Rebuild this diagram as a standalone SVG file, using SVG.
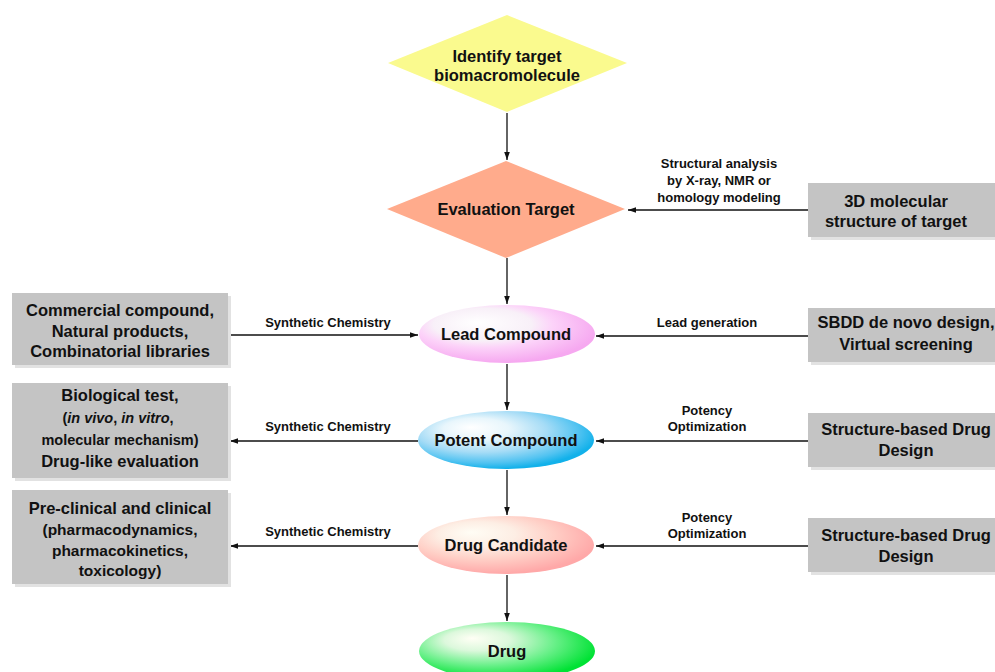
<svg xmlns="http://www.w3.org/2000/svg" width="995" height="672" viewBox="0 0 995 672">
<style>
text{font-family:"Liberation Sans",Arial,sans-serif;font-weight:bold;fill:#111;text-anchor:middle}
.box{fill:#c4c4c4}
.shadow{fill:#e2e2e2}
.bt{font-size:16.5px}
.bs{font-size:14.5px}
.bs2{font-size:15.5px}
.lbl{font-size:13px}
.nt{font-size:16.5px}
.conn{stroke:#111;stroke-width:1.3;fill:none;marker-end:url(#ah)}
</style>
<defs>
<marker id="ah" viewBox="0 0 10 10" refX="10" refY="5" markerWidth="8" markerHeight="8" markerUnits="userSpaceOnUse" orient="auto">
<path d="M0,1.5 L10,5 L0,8.5 Z" fill="#111"/>
</marker>
<radialGradient id="gLead" cx="0.4" cy="0.38" r="0.62" fx="0.33" fy="0.3">
<stop offset="0" stop-color="#ffffff"/><stop offset="0.45" stop-color="#f8f0f8"/><stop offset="0.62" stop-color="#fcd3f9"/><stop offset="1" stop-color="#f6a8f0"/>
</radialGradient>
<radialGradient id="gPot" cx="0.4" cy="0.38" r="0.62" fx="0.3" fy="0.28">
<stop offset="0" stop-color="#ffffff"/><stop offset="0.3" stop-color="#e8f6fc"/><stop offset="0.6" stop-color="#a6dcf6"/><stop offset="0.85" stop-color="#52c3f1"/><stop offset="1" stop-color="#12b1ea"/>
</radialGradient>
<radialGradient id="gCand" cx="0.4" cy="0.38" r="0.62" fx="0.3" fy="0.28">
<stop offset="0" stop-color="#fffdf5"/><stop offset="0.35" stop-color="#fdeee4"/><stop offset="0.65" stop-color="#ffcfc6"/><stop offset="1" stop-color="#ffa8a8"/>
</radialGradient>
<radialGradient id="gDrug" cx="0.4" cy="0.38" r="0.62" fx="0.3" fy="0.28">
<stop offset="0" stop-color="#fffff5"/><stop offset="0.3" stop-color="#dcf8dc"/><stop offset="0.65" stop-color="#6af08a"/><stop offset="1" stop-color="#00e234"/>
</radialGradient>
</defs>

<g id="connectors">
<line class="conn" x1="507" y1="113" x2="507" y2="160"/>
<line class="conn" x1="507" y1="258" x2="507" y2="304"/>
<line class="conn" x1="507" y1="364" x2="507" y2="410"/>
<line class="conn" x1="507" y1="470" x2="507" y2="515"/>
<line class="conn" x1="507" y1="575" x2="507" y2="621"/>
<line class="conn" x1="808" y1="210" x2="628" y2="210"/>
<line class="conn" x1="228" y1="335" x2="418" y2="335"/>
<line class="conn" x1="808" y1="336" x2="596" y2="336"/>
<line class="conn" x1="418" y1="441" x2="230" y2="441"/>
<line class="conn" x1="808" y1="441" x2="596" y2="441"/>
<line class="conn" x1="418" y1="546" x2="230" y2="546"/>
<line class="conn" x1="808" y1="546" x2="596" y2="546"/>
<text class="lbl" x="719" y="168">Structural analysis</text>
<text class="lbl" x="719" y="185">by X-ray, NMR or</text>
<text class="lbl" x="719" y="202">homology modeling</text>
<text class="lbl" x="328" y="327">Synthetic Chemistry</text>
<text class="lbl" x="707" y="327">Lead generation</text>
<text class="lbl" x="328" y="431">Synthetic Chemistry</text>
<text class="lbl" x="707" y="415">Potency</text>
<text class="lbl" x="707" y="431">Optimization</text>
<text class="lbl" x="328" y="536">Synthetic Chemistry</text>
<text class="lbl" x="707" y="522">Potency</text>
<text class="lbl" x="707" y="538">Optimization</text>
</g>

<g id="identify">
<polygon points="507,15 627,63 507,112 388,63" fill="#fafa8e"/>
<text class="nt" x="507" y="62">Identify target</text>
<text class="nt" x="507" y="81">biomacromolecule</text>
</g>

<g id="evaluation">
<polygon points="506,161 625,209 506,258 387,209" fill="#ffab8c"/>
<text class="nt" x="506" y="215">Evaluation Target</text>
</g>

<g id="structure3d">
<rect class="shadow" x="811" y="186" width="200" height="54"/>
<rect class="box" x="808" y="183" width="200" height="54"/>
<text class="bt" x="896" y="207">3D molecular</text>
<text class="bt" x="896" y="227">structure of target</text>
</g>

<g id="commercial">
<rect class="shadow" x="15" y="296" width="216" height="72"/>
<rect class="box" x="12" y="293" width="216" height="72"/>
<text class="bt" x="120" y="316">Commercial compound,</text>
<text class="bt" x="120" y="337">Natural products,</text>
<text class="bt" x="120" y="357">Combinatorial libraries</text>
</g>

<g id="lead">
<ellipse cx="507" cy="334" rx="88" ry="29" fill="url(#gLead)"/>
<text class="nt" x="506" y="340">Lead Compound</text>
</g>

<g id="sbdd">
<rect class="shadow" x="811" y="311" width="200" height="54"/>
<rect class="box" x="808" y="308" width="200" height="54"/>
<text class="bt" x="906" y="328">SBDD de novo design,</text>
<text class="bt" x="906" y="350">Virtual screening</text>
</g>

<g id="biological">
<rect class="shadow" x="15" y="386" width="216" height="95"/>
<rect class="box" x="12" y="383" width="216" height="95"/>
<text class="bt" x="120" y="401">Biological test,</text>
<text class="bs" x="118" y="423">(<tspan font-style="italic">in vivo</tspan>, <tspan font-style="italic">in vitro</tspan>,</text>
<text class="bs" x="120" y="445">molecular mechanism)</text>
<text class="bt" x="120" y="467">Drug-like evaluation</text>
</g>

<g id="potent">
<ellipse cx="506" cy="440" rx="88" ry="29" fill="url(#gPot)"/>
<text class="nt" x="506" y="446">Potent Compound</text>
</g>

<g id="sbdd2">
<rect class="shadow" x="811" y="416" width="200" height="54"/>
<rect class="box" x="808" y="413" width="200" height="54"/>
<text class="bt" x="906" y="435">Structure-based Drug</text>
<text class="bt" x="906" y="456">Design</text>
</g>

<g id="preclinical">
<rect class="shadow" x="15" y="493" width="216" height="94"/>
<rect class="box" x="12" y="490" width="216" height="94"/>
<text class="bt" x="120" y="514">Pre-clinical and clinical</text>
<text class="bs2" x="120" y="535">(pharmacodynamics,</text>
<text class="bs2" x="120" y="556">pharmacokinetics,</text>
<text class="bs2" x="120" y="576">toxicology)</text>
</g>

<g id="candidate">
<ellipse cx="506" cy="545" rx="88" ry="29" fill="url(#gCand)"/>
<text class="nt" x="506" y="551">Drug Candidate</text>
</g>

<g id="sbdd3">
<rect class="shadow" x="811" y="521" width="200" height="54"/>
<rect class="box" x="808" y="518" width="200" height="54"/>
<text class="bt" x="906" y="541">Structure-based Drug</text>
<text class="bt" x="906" y="562">Design</text>
</g>

<g id="drug">
<ellipse cx="507" cy="651" rx="88" ry="29" fill="url(#gDrug)"/>
<text class="nt" x="507" y="657">Drug</text>
</g>
</svg>
